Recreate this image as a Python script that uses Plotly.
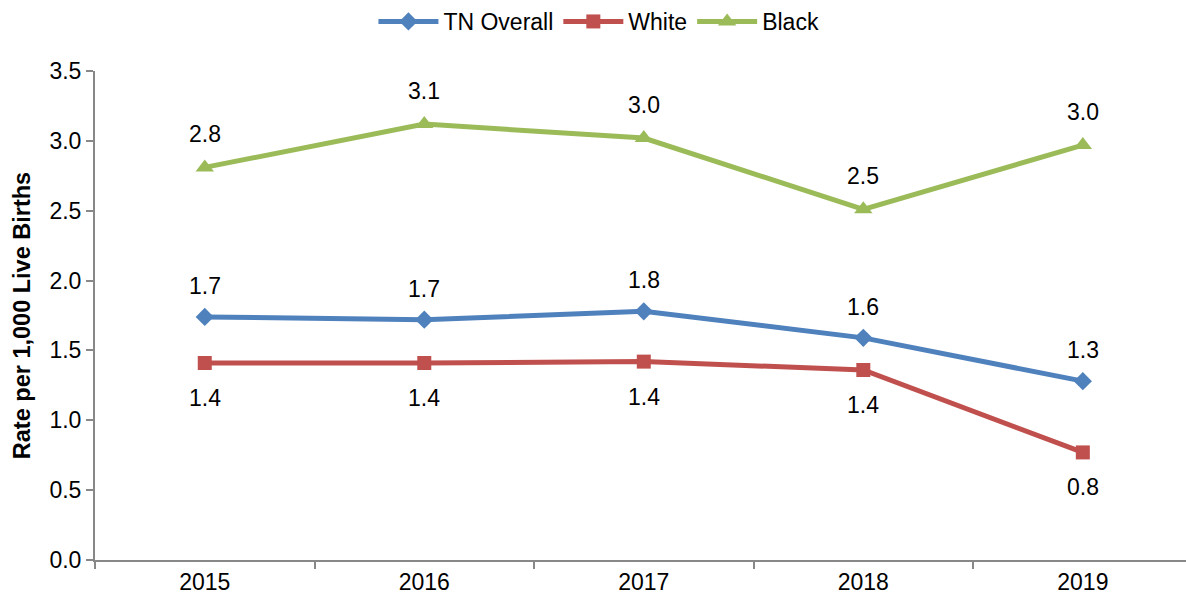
import plotly.graph_objects as go

years = ["2015", "2016", "2017", "2018", "2019"]
tn_overall = [1.74, 1.72, 1.78, 1.59, 1.28]
white = [1.41, 1.41, 1.42, 1.36, 0.77]
black = [2.81, 3.12, 3.02, 2.51, 2.97]

font_family = "Liberation Sans, Arial, sans-serif"

# name, values, colour, marker symbol, marker size, label offset (px)
series = [
    ("TN Overall", tn_overall, "#4F81BD", "diamond", 14, 31),
    ("White", white, "#C0504D", "square", 14, -35),
    ("Black", black, "#9BBB59", "triangle-up", 16, 33),
]

fig = go.Figure()
for name, vals, color, symbol, msize, shift in series:
    fig.add_trace(go.Scatter(
        x=years, y=vals, name=name,
        mode="lines+markers",
        line=dict(color=color, width=5),
        marker=dict(symbol=symbol, size=msize, color=color),
    ))
    # value labels; on a category axis the annotation x is the category index
    for i, v in enumerate(vals):
        fig.add_annotation(
            x=i, y=v, xref="x", yref="y", text=f"{v:.1f}", showarrow=False,
            yshift=shift, xanchor="center", yanchor="middle",
            font=dict(size=23, color="#000000", family=font_family),
        )

fig.update_layout(
    width=1186, height=603,
    margin=dict(l=95, r=0, t=71, b=43),
    paper_bgcolor="white", plot_bgcolor="white",
    font=dict(family=font_family, size=23, color="#000000"),
    showlegend=True,
    legend=dict(orientation="h", x=0.505, xref="container", xanchor="center",
                y=1.0, yref="container", yanchor="top",
                font=dict(size=23), itemwidth=60, traceorder="normal"),
    xaxis=dict(type="category", range=[-0.5, 4.47], tickson="boundaries",
               ticks="outside", ticklen=7, tickcolor="#888888", tickwidth=2,
               showline=True, linecolor="#888888", linewidth=2,
               showgrid=False, tickfont=dict(size=23)),
    yaxis=dict(range=[0, 3.5], dtick=0.5, tickformat=".1f",
               ticks="outside", ticklen=7, tickcolor="#888888", tickwidth=2,
               showline=True, linecolor="#888888", linewidth=2,
               showgrid=False, zeroline=False, tickfont=dict(size=23),
               title=dict(text="<b>Rate per 1,000 Live Births</b>",
                          font=dict(size=23.5), standoff=12)),
)

fig.write_html("out.html")
